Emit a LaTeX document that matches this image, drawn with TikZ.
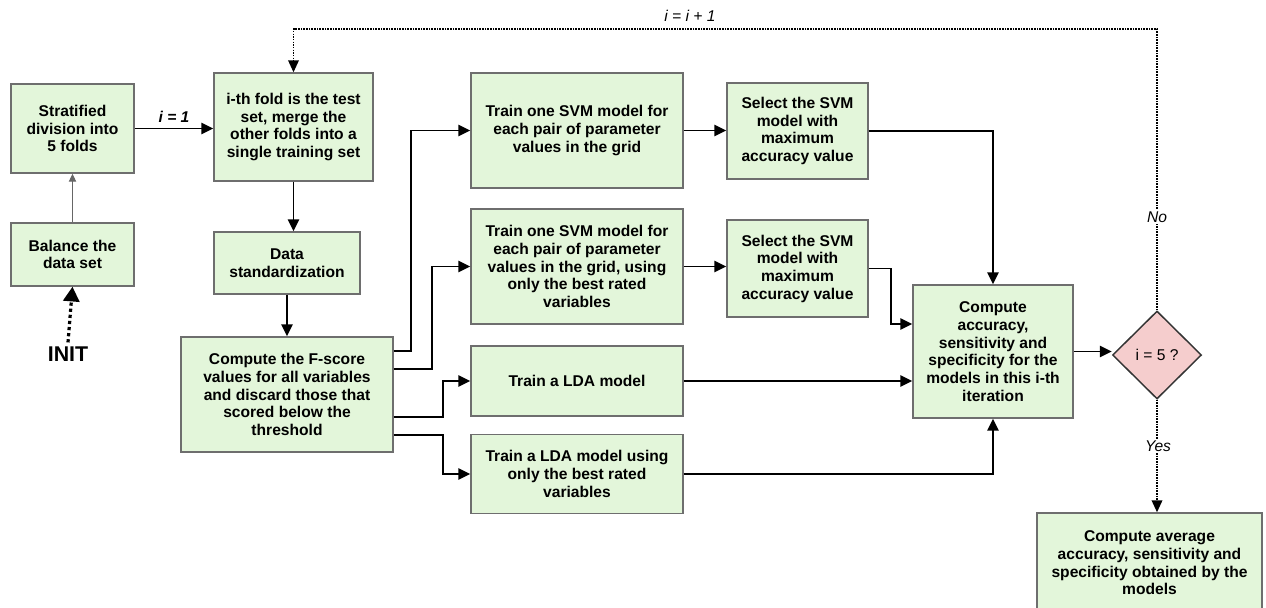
\documentclass[tikz,border=0pt]{standalone}
\usepackage{fontspec}
\setmainfont{Liberation Sans}
\usetikzlibrary{shapes.geometric,arrows.meta}
\newdimen\pxu \pxu=0.75pt
\definecolor{boxfill}{RGB}{227,246,218}
\definecolor{boxdraw}{RGB}{110,110,110}
\definecolor{decfill}{RGB}{245,205,205}
\tikzset{
  box/.style={draw=boxdraw, line width=1.1pt, fill=boxfill, align=center, inner sep=0pt,
    font=\bfseries\fontsize{11.7}{13.25}\selectfont},
  arr/.style={line width=1.4pt, -{Triangle[length=9pt,width=8.5pt]}},
  dotarr/.style={line width=1.1pt, dash pattern=on 1.1pt off 0.9pt, -{Triangle[length=9pt,width=8pt]}},
  lbl/.style={font=\itshape\fontsize{11.7}{13}\selectfont, inner sep=1pt},
}
\begin{document}
\begin{tikzpicture}[x=0.75pt, y=-0.75pt]
\useasboundingbox (0,0) rectangle (1266,607);
\clip (0,0) rectangle (1266,607);
% nodes
\node[box, minimum width=123\pxu, minimum height=89\pxu] (strat) at (72.5,128.5) {Stratified\\division into\\5 folds};
\node[box, minimum width=123\pxu, minimum height=63\pxu] (bal) at (72.5,254.5) {Balance the\\data set};
\node[font=\bfseries\fontsize{16}{18}\selectfont, inner sep=0pt] (init) at (68,354) {INIT};
\node[box, minimum width=159\pxu, minimum height=108\pxu] (fold) at (293.5,127) {i-th fold is the test\\set, merge the\\other folds into a\\single training set};
\node[box, minimum width=146\pxu, minimum height=62\pxu] (std) at (287,263) {Data\\standardization};
\node[box, minimum width=212\pxu, minimum height=115\pxu] (fs) at (287,394.5) {Compute the F-score\\values for all variables\\and discard those that\\scored below the\\threshold};
\node[box, minimum width=212\pxu, minimum height=115\pxu] (svm1) at (577,130.5) {Train one SVM model for\\each pair of parameter\\values in the grid};
\node[box, minimum width=212\pxu, minimum height=115\pxu] (svm2) at (577,266.5) {Train one SVM model for\\each pair of parameter\\values in the grid, using\\only the best rated\\variables};
\node[box, minimum width=212\pxu, minimum height=70\pxu] (lda) at (577,381) {Train a LDA model};
\node[box, minimum width=212\pxu, minimum height=79\pxu] (lda2) at (577,474) {Train a LDA model using\\only the best rated\\variables};
\node[box, minimum width=141\pxu, minimum height=96\pxu] (sel1) at (797.5,131) {Select the SVM\\model with\\maximum\\accuracy value};
\node[box, minimum width=141\pxu, minimum height=97\pxu] (sel2) at (797.5,268.5) {Select the SVM\\model with\\maximum\\accuracy value};
\node[box, minimum width=160\pxu, minimum height=133\pxu] (acc) at (993,351.5) {Compute\\accuracy,\\sensitivity and\\specificity for the\\models in this i-th\\iteration};
\node[diamond, draw=black!80, line width=1.1pt, fill=decfill, minimum width=89\pxu, minimum height=88\pxu, inner sep=0pt,
  font=\fontsize{11.7}{13}\selectfont] (dec) at (1157,355) {i = 5 ?};
\node[box, minimum width=225\pxu, minimum height=100\pxu] (fin) at (1149.5,563) {Compute average\\accuracy, sensitivity and\\specificity obtained by the\\models};
% connectors
\draw[arr] (strat.east) -- (strat.east -| fold.west) node[lbl, font=\bfseries\itshape\fontsize{11.7}{13}\selectfont, midway, above=3pt] {i = 1};
\draw[line width=0.8pt, draw=black!60, -{Triangle[length=6pt,width=5.5pt]}] (bal.north) -- (strat.south);
\draw[line width=2.4pt, dash pattern=on 2.4pt off 2.2pt, -{Triangle[length=11pt,width=12pt]}] (init.north) ++(0,-4) -- (bal.south);
\draw[arr] (fold.south) -- (fold.south |- std.north);
\draw[arr] (std.south) -- (fs.north);
\draw[arr] (fs.east |- 0,351) -- (411,351) |- (svm1.west);
\draw[arr] (fs.east |- 0,369) -- (432,369) |- (svm2.west);
\draw[arr] (fs.east |- 0,417) -- (443,417) |- (lda.west);
\draw[arr] (fs.east |- 0,435) -- (443,435) |- (lda2.west);
\draw[arr] (svm1.east) -- (svm1.east -| sel1.west);
\draw[arr] (svm2.east) -- (svm2.east -| sel2.west);
\draw[arr] (sel1.east) -| (acc.north);
\draw[arr] (sel2.east) -- (891,268.5) |- (acc.west |- 0,324);
\draw[arr] (lda.east) -- (lda.east -| acc.west);
\draw[arr] (lda2.east) -| (acc.south);
\draw[arr] (acc.east) -- (acc.east -| dec.west);
\draw[dotarr] (dec.north) |- (fold.north |- 0,29) -- (fold.north);
\node[lbl] (lplus) at (690,16) {i = i + 1};
\node[lbl, fill=white] (lno) at (1157,217) {No};
\draw[dotarr] (dec.south) -- (dec.south |- fin.north);
\node[lbl, fill=white] (lyes) at (1158,446) {Yes};
\end{tikzpicture}
\end{document}
